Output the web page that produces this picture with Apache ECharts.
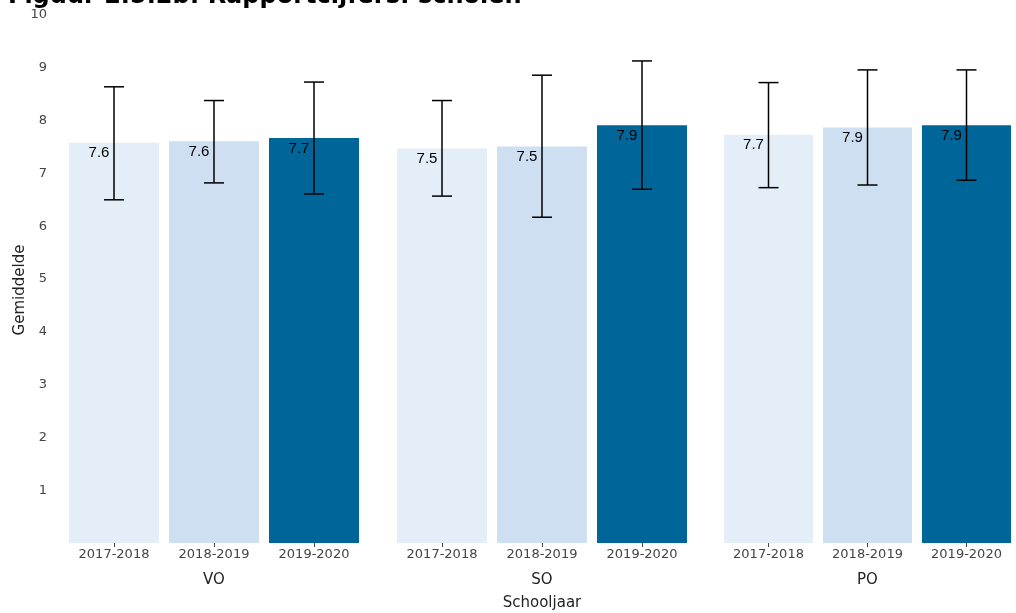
<!DOCTYPE html>
<html>
<head>
<meta charset="utf-8">
<script src="https://cdn.jsdelivr.net/npm/echarts@6/dist/echarts.min.js"></script>
<style>html,body{margin:0;padding:0;background:#fff}#c{width:1016px;height:613px}</style>
</head>
<body>
<div id="c"></div>
<script>
var titleText = 'Figuur 2.5.2b: Rapportcijfers: scholen';
var categories = ['2017-2018', '2018-2019', '2019-2020'];
var groups = ['VO', 'SO', 'PO'];
var meanVO = [7.58, 7.61, 7.67];
var meanSO = [7.47, 7.51, 7.91];
var meanPO = [7.73, 7.87, 7.91];
var upperVO = [8.64, 8.38, 8.73];
var upperSO = [8.38, 8.86, 9.13];
var upperPO = [8.72, 8.96, 8.96];
var lowerVO = [6.50, 6.82, 6.61];
var lowerSO = [6.57, 6.17, 6.70];
var lowerPO = [6.73, 6.78, 6.87];
var yTicks = [0, 1, 2, 3, 4, 5, 6, 7, 8, 9, 10];
var xAxisTitle = 'Schooljaar';
var yAxisTitle = 'Gemiddelde';

var means = [meanVO, meanSO, meanPO];
var uppers = [upperVO, upperSO, upperPO];
var lowers = [lowerVO, lowerSO, lowerPO];
var barColors = ['#e3eef8', '#cddff0', '#006699'];
var gridLefts = [64, 392, 719];
var axisFont = 'DejaVu Sans';

var grids = [], xAxes = [], yAxes = [], series = [];
for (var g = 0; g < 3; g++) {
  grids.push({left: gridLefts[g], width: 300, top: 15, height: 528, containLabel: false});
  xAxes.push({
    type: 'category', gridIndex: g, data: categories,
    name: groups[g], nameLocation: 'middle', nameGap: 30,
    nameTextStyle: {fontSize: 15, color: '#222', fontFamily: axisFont},
    axisLine: {show: false},
    axisTick: {show: true, alignWithLabel: true, length: 4, lineStyle: {color: '#444'}},
    axisLabel: {fontSize: 13, color: '#444', fontFamily: axisFont, margin: 5}
  });
  yAxes.push({
    type: 'value', gridIndex: g, min: yTicks[0], max: yTicks[yTicks.length - 1], interval: 1,
    splitLine: {show: false}, axisLine: {show: false}, axisTick: {show: false},
    axisLabel: {show: g === 0, fontSize: 13, color: '#444', fontFamily: axisFont, margin: 17,
      formatter: function (v) { return v === 0 ? '' : String(v); }}
  });
  series.push({
    type: 'bar', xAxisIndex: g, yAxisIndex: g, barCategoryGap: '10%',
    data: means[g].map(function (v, i) { return {value: v, itemStyle: {color: barColors[i]}}; }),
    label: {show: true, position: 'insideTop', distance: 3, offset: [-15, 0], fontSize: 15,
      color: '#000', fontFamily: 'Liberation Sans',
      formatter: function (p) { return p.value.toFixed(1); }}
  });
  series.push({
    type: 'custom', xAxisIndex: g, yAxisIndex: g, z: 5,
    data: lowers[g].map(function (lo, i) { return [i, lo, uppers[g][i]]; }),
    renderItem: function (params, api) {
      var lo = api.coord([api.value(0), api.value(1)]);
      var hi = api.coord([api.value(0), api.value(2)]);
      var hw = 10;
      var st = {stroke: '#000', lineWidth: 1.5};
      return {type: 'group', children: [
        {type: 'line', shape: {x1: lo[0], y1: lo[1], x2: hi[0], y2: hi[1]}, style: st},
        {type: 'line', shape: {x1: lo[0] - hw, y1: lo[1], x2: lo[0] + hw, y2: lo[1]}, style: st},
        {type: 'line', shape: {x1: hi[0] - hw, y1: hi[1], x2: hi[0] + hw, y2: hi[1]}, style: st}
      ]};
    }
  });
}

var chart = echarts.init(document.getElementById('c'), null, {renderer: 'canvas'});
chart.setOption({
  animation: false,
  backgroundColor: '#fff',
  title: {text: titleText, left: 3, top: -20,
    textStyle: {fontSize: 24, fontWeight: 'bold', color: '#000', fontFamily: 'DejaVu Sans'}},
  grid: grids, xAxis: xAxes, yAxis: yAxes, series: series,
  graphic: [
    {type: 'text', x: 542, y: 603,
      style: {text: xAxisTitle, fontSize: 15, fill: '#222', fontFamily: axisFont, align: 'center', verticalAlign: 'middle'}},
    {type: 'text', x: 20, y: 290, rotation: Math.PI / 2,
      style: {text: yAxisTitle, fontSize: 15, fill: '#222', fontFamily: axisFont, align: 'center', verticalAlign: 'middle'}}
  ]
});
</script>
</body>
</html>
